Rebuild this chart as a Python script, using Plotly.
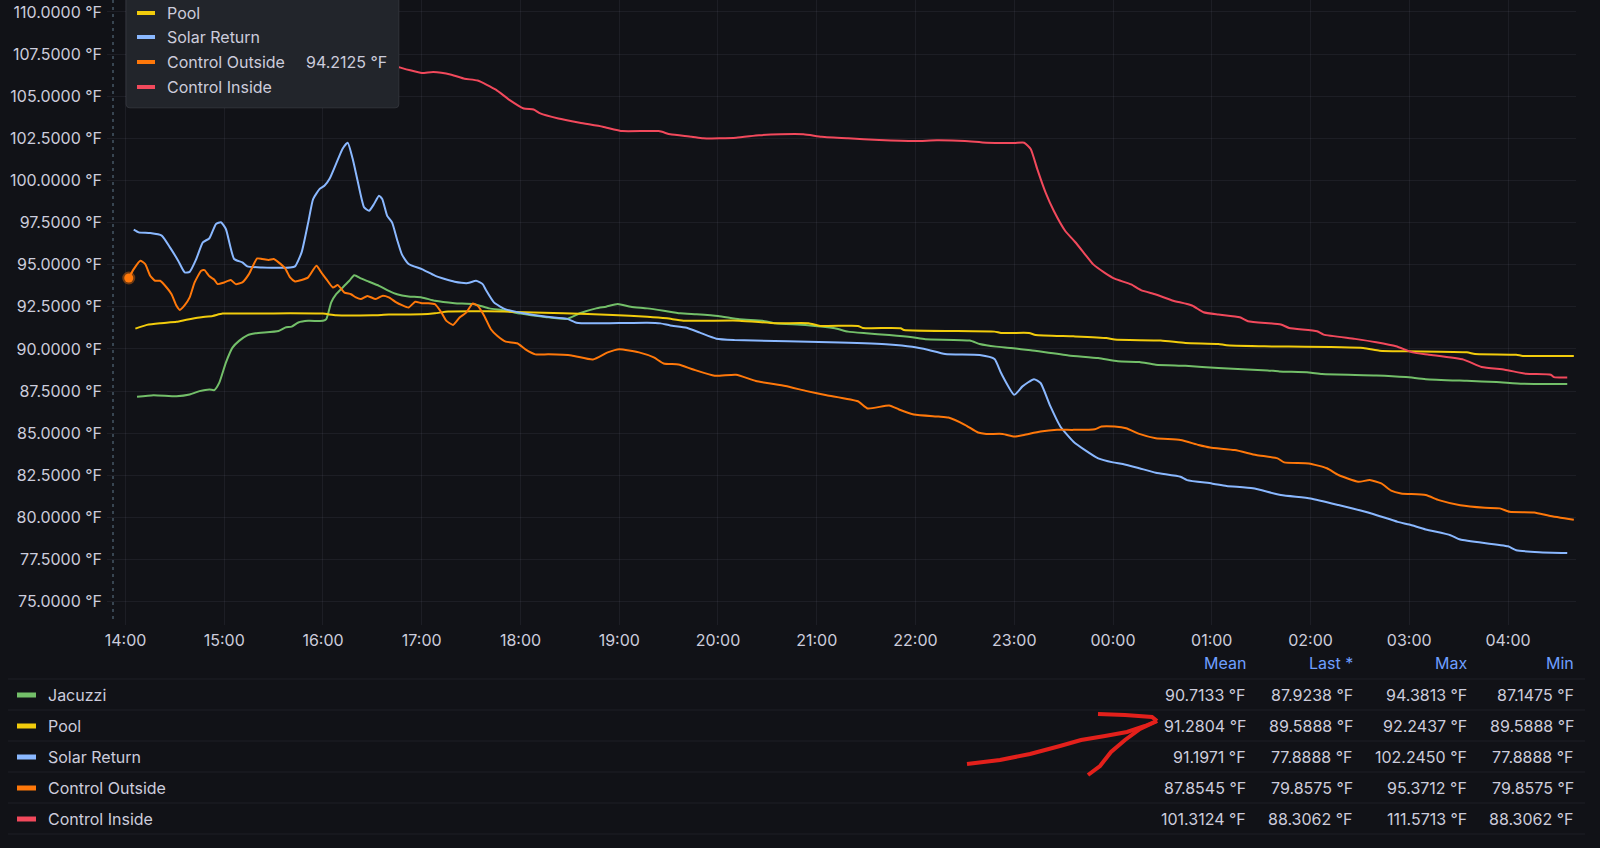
import plotly.graph_objects as go

# ---------------- data ----------------
jacuzzi_t = ["14:07","14:17","14:31","14:39","14:45","14:51","14:54","14:57","15:01","15:05","15:09","15:14","15:19","15:33","15:37","15:41","15:45","15:51","16:00","16:02","16:05","16:08","16:13","16:16","16:19","16:23","16:28","16:34","16:40","16:45","16:52","17:00","17:08","17:20","17:32","17:41","17:50","18:00","18:15","18:28","18:36","18:46","18:52","18:59","19:07","19:17","19:27","19:37","19:47","20:00","20:13","20:27","20:35","20:53","21:11","21:19","21:30","21:44","21:58","22:06","22:33","22:39","22:49","22:58","23:10","23:33","23:51","00:03","00:16","00:26","00:44","01:04","01:34","01:41","01:59","02:07","02:40","02:58","03:10","03:35","03:53","04:09","04:36"]
jacuzzi_v = [87.16,87.26,87.2,87.3,87.5,87.6,87.56,88.0,89.19,90.08,90.48,90.81,90.93,91.07,91.27,91.33,91.57,91.67,91.67,91.77,92.76,93.25,93.75,94.05,94.38,94.19,93.99,93.75,93.45,93.25,93.12,93.06,92.86,92.72,92.66,92.41,92.3,92.1,91.9,91.78,92.12,92.41,92.51,92.67,92.51,92.41,92.27,92.12,92.06,91.96,91.76,91.68,91.53,91.43,91.23,91.03,90.93,90.83,90.7,90.58,90.5,90.3,90.14,90.06,89.92,89.62,89.46,89.27,89.23,89.07,89.0,88.87,88.73,88.67,88.61,88.51,88.43,88.33,88.21,88.11,88.04,87.94,87.92]

pool_t = ["14:06","14:13","14:21","14:31","14:37","14:45","14:53","14:59","15:20","15:40","16:00","16:08","16:30","16:40","17:00","17:08","17:16","17:30","17:50","18:26","18:56","19:17","19:29","19:39","20:13","20:35","20:55","21:02","21:25","21:28","21:51","21:53","22:48","22:52","23:09","23:13","23:36","23:56","00:01","00:29","00:44","01:04","01:09","01:32","02:32","02:42","02:58","03:35","03:40","04:05","04:09","04:40"]
pool_v = [91.21,91.43,91.53,91.61,91.73,91.87,91.96,92.1,92.1,92.12,92.1,92.0,92.0,92.04,92.06,92.12,92.22,92.24,92.22,92.12,92.02,91.92,91.82,91.68,91.68,91.53,91.53,91.37,91.37,91.25,91.23,91.13,91.03,90.95,90.95,90.83,90.75,90.65,90.56,90.5,90.36,90.3,90.22,90.16,90.06,89.9,89.86,89.8,89.7,89.66,89.59,89.59]

solar_t = ["14:05","14:08","14:15","14:22","14:27","14:32","14:36","14:39","14:43","14:47","14:51","14:55","14:58","15:01","15:06","15:11","15:14","15:23","15:40","15:43","15:47","15:51","15:54","15:58","16:01","16:04","16:08","16:12","16:15","16:18","16:21","16:25","16:28","16:31","16:34","16:36","16:39","16:42","16:45","16:48","16:52","17:00","17:08","17:14","17:20","17:28","17:33","17:37","17:39","17:44","17:51","18:00","18:16","18:28","18:34","18:44","19:17","19:25","19:31","19:41","19:49","19:59","20:10","21:14","21:44","21:58","22:08","22:18","22:39","22:48","22:52","23:00","23:05","23:12","23:16","23:22","23:28","23:36","23:43","23:51","00:00","00:06","00:16","00:26","00:41","00:45","01:00","01:09","01:25","01:42","02:00","02:17","02:37","02:53","03:00","03:10","03:25","03:31","04:00","04:05","04:19","04:36"]
solar_v = [97.08,96.92,96.88,96.73,96.03,95.24,94.54,94.58,95.34,96.33,96.57,97.42,97.52,97.12,95.34,95.14,94.9,94.84,94.84,94.9,95.73,97.5,98.9,99.5,99.7,100.1,101.0,101.9,102.24,101.3,100.0,98.4,98.2,98.6,99.1,98.9,97.9,97.5,96.5,95.6,95.04,94.74,94.35,94.15,93.99,93.91,94.05,93.85,93.5,92.75,92.35,92.15,91.91,91.8,91.56,91.52,91.56,91.52,91.4,91.26,90.97,90.61,90.53,90.39,90.27,90.13,89.94,89.7,89.64,89.4,88.57,87.28,87.78,88.21,87.98,86.59,85.4,84.5,84.0,83.51,83.27,83.17,82.92,82.66,82.42,82.22,82.02,81.87,81.73,81.33,81.13,80.74,80.24,79.74,79.58,79.29,78.95,78.69,78.29,78.06,77.94,77.89]

outside_t = ["14:02","14:05","14:09","14:12","14:15","14:18","14:21","14:25","14:28","14:31","14:33","14:36","14:39","14:42","14:46","14:48","14:51","14:54","14:56","15:00","15:04","15:07","15:11","15:15","15:20","15:23","15:27","15:30","15:33","15:37","15:40","15:43","15:47","15:51","15:56","15:59","16:02","16:06","16:09","16:13","16:17","16:20","16:23","16:27","16:32","16:36","16:40","16:44","16:48","16:52","16:56","17:00","17:04","17:08","17:12","17:15","17:19","17:23","17:27","17:31","17:34","17:38","17:42","17:46","17:51","17:58","18:03","18:09","18:17","18:31","18:44","18:53","19:00","19:12","19:21","19:27","19:36","19:45","19:58","20:11","20:23","20:41","20:54","21:06","21:25","21:31","21:44","21:50","21:59","22:14","22:20","22:30","22:38","22:43","22:53","23:00","23:06","23:16","23:26","23:36","23:49","23:53","00:01","00:08","00:16","00:26","00:41","00:52","00:59","01:14","01:27","01:40","01:44","01:59","02:10","02:17","02:29","02:36","02:43","02:49","02:55","03:10","03:18","03:31","03:46","03:55","04:01","04:16","04:25","04:40"]
outside_v = [94.21,94.74,95.24,95.04,94.35,94.05,94.05,93.65,93.25,92.56,92.32,92.6,93.06,93.95,94.64,94.68,94.31,94.11,93.85,93.95,94.09,93.85,93.95,94.44,95.37,95.34,95.28,95.34,95.14,94.78,94.25,94.01,94.09,94.25,94.94,94.54,94.15,93.65,93.79,93.35,93.25,93.06,92.96,93.15,92.96,93.15,93.06,92.8,92.6,92.46,92.8,92.72,92.72,92.66,92.16,91.67,91.43,91.87,92.16,92.7,92.56,91.96,91.17,90.77,90.44,90.34,89.98,89.68,89.68,89.62,89.38,89.8,89.99,89.8,89.5,89.14,89.08,88.78,88.41,88.47,88.1,87.8,87.5,87.26,86.9,86.47,86.65,86.41,86.11,85.99,85.93,85.5,85.04,84.96,84.96,84.8,84.9,85.1,85.2,85.2,85.24,85.4,85.4,85.3,84.96,84.7,84.6,84.3,84.15,84.0,83.71,83.51,83.27,83.21,82.92,82.52,82.12,82.22,82.02,81.59,81.43,81.33,81.03,80.73,80.58,80.54,80.34,80.3,80.1,79.86]

inside_t = ["14:02","14:10","14:30","15:00","15:30","16:00","16:30","16:46","16:53","17:00","17:07","17:18","17:26","17:34","17:45","17:53","18:02","18:08","18:12","18:23","18:36","18:50","19:02","19:24","19:31","19:44","19:51","20:11","20:25","20:38","20:52","21:03","21:19","21:38","22:00","22:13","22:30","22:43","23:00","23:06","23:10","23:14","23:19","23:24","23:31","23:37","23:43","23:48","23:55","00:01","00:11","00:17","00:26","00:36","00:48","00:55","01:04","01:17","01:22","01:42","01:47","02:04","02:08","02:27","02:40","02:52","03:02","03:12","03:33","03:44","03:58","04:11","04:26","04:28","04:36"]
inside_v = [111.4,111.57,111.2,110.5,109.6,108.6,107.4,106.73,106.54,106.38,106.44,106.28,106.04,105.93,105.39,104.8,104.27,104.21,103.98,103.68,103.43,103.19,102.93,102.93,102.74,102.6,102.5,102.54,102.68,102.74,102.74,102.6,102.5,102.4,102.34,102.38,102.34,102.24,102.22,102.24,101.87,100.67,99.29,98.2,97.0,96.35,95.62,95.02,94.52,94.17,93.83,93.49,93.23,92.88,92.58,92.18,92.04,91.88,91.65,91.45,91.25,91.05,90.85,90.6,90.4,90.16,89.8,89.66,89.37,88.93,88.77,88.53,88.47,88.33,88.31]

series_names = ["Jacuzzi", "Pool", "Solar Return", "Control Outside", "Control Inside"]
series_colors = ["#73BF69", "#F2CC0C", "#8AB8FF", "#FF780A", "#F2495C"]
stat_headers = ["Mean", "Last *", "Max", "Min"]
stat_values = [
    ["90.7133 °F", "87.9238 °F", "94.3813 °F", "87.1475 °F"],
    ["91.2804 °F", "89.5888 °F", "92.2437 °F", "89.5888 °F"],
    ["91.1971 °F", "77.8888 °F", "102.2450 °F", "77.8888 °F"],
    ["87.8545 °F", "79.8575 °F", "95.3712 °F", "79.8575 °F"],
    ["101.3124 °F", "88.3062 °F", "111.5713 °F", "88.3062 °F"],
]
tooltip_names = ["Pool", "Solar Return", "Control Outside", "Control Inside"]
tooltip_colors = ["#F2CC0C", "#8AB8FF", "#FF780A", "#F2495C"]
hover_time = "14:02"
hover_value = 94.2125
hover_label = "94.2125 °F"

# ---------------- helpers ----------------
W, H = 1600, 848
ML, MR = 107, 24
PLOT_BOTTOM = 625
BG = "#111217"
TXT = "#ccccdc"
FONT = "Inter"
FS = 16


def ts(hm):
    h = int(hm.split(":")[0])
    day = "2024-07-20" if h >= 12 else "2024-07-21"
    return f"{day} {hm}:00"


def px(x):
    return (x - ML) / (W - ML - MR)


def py(y):
    return 1 - y / H


fig = go.Figure()
all_t = [jacuzzi_t, pool_t, solar_t, outside_t, inside_t]
all_v = [jacuzzi_v, pool_v, solar_v, outside_v, inside_v]
for name, col, t, v in zip(series_names, series_colors, all_t, all_v):
    fig.add_trace(go.Scatter(x=[ts(s) for s in t], y=v, mode="lines", name=name,
                             line=dict(color=col, width=2, shape="spline", smoothing=0.5),
                             showlegend=False, hoverinfo="skip"))

# hovered point
fig.add_trace(go.Scatter(x=[ts(hover_time)], y=[hover_value], mode="markers",
                         marker=dict(size=9, color="#FF780A",
                                     line=dict(width=4, color="rgba(255,120,10,0.4)")),
                         showlegend=False, hoverinfo="skip"))

shapes = []
annotations = []

# crosshair dashed line
shapes.append(dict(type="line", xref="paper", yref="paper", x0=px(113), x1=px(113),
                   y0=py(0), y1=py(620), line=dict(color="rgba(110,140,160,0.85)", width=1, dash="3px,4px")))

# tooltip box
tx0, tx1, ty0, ty1, r = 126, 399, -10, 108, 4
rx = r / (W - ML - MR)
ry = r / H
path = (f"M {px(tx0)},{py(ty0)} L {px(tx0)},{py(ty1)+ry} Q {px(tx0)},{py(ty1)} {px(tx0)+rx},{py(ty1)} "
        f"L {px(tx1)-rx},{py(ty1)} Q {px(tx1)},{py(ty1)} {px(tx1)},{py(ty1)+ry} L {px(tx1)},{py(ty0)} Z")
shapes.append(dict(type="path", xref="paper", yref="paper", path=path, layer="above",
                   fillcolor="#22252b", line=dict(color="rgba(204,204,220,0.10)", width=1)))
tip_rows = [13, 37, 62, 87]
for name, col, yy in zip(tooltip_names, tooltip_colors, tip_rows):
    shapes.append(dict(type="rect", xref="paper", yref="paper", layer="above",
                       x0=px(137), x1=px(155), y0=py(yy - 2), y1=py(yy + 2),
                       fillcolor=col, line=dict(width=0)))
    annotations.append(dict(xref="paper", yref="paper", x=px(165), y=py(yy), text=name,
                            showarrow=False, xanchor="left", yanchor="middle",
                            font=dict(family=FONT, size=FS, color=TXT)))
annotations.append(dict(xref="paper", yref="paper", x=px(389), y=py(62), text=hover_label,
                        showarrow=False, xanchor="right", yanchor="middle",
                        font=dict(family=FONT, size=FS, color=TXT)))

# legend table
col_right = [1248, 1355, 1469, 1576]
header_y = 663
row_y = [695, 726, 757, 788, 819]
sep_y = [679, 710, 741, 772, 803, 834]
for hdr, xr in zip(stat_headers, col_right):
    annotations.append(dict(xref="paper", yref="paper", x=px(xr), y=py(header_y), text=hdr,
                            showarrow=False, xanchor="right", yanchor="middle",
                            font=dict(family=FONT, size=FS, color="#6E9FFF")))
for sy in sep_y:
    shapes.append(dict(type="line", xref="paper", yref="paper", x0=px(8), x1=px(1585),
                       y0=py(sy), y1=py(sy), line=dict(color="rgba(204,204,220,0.07)", width=1)))
for name, col, yy, vals in zip(series_names, series_colors, row_y, stat_values):
    shapes.append(dict(type="rect", xref="paper", yref="paper", x0=px(17), x1=px(36),
                       y0=py(yy - 2.5), y1=py(yy + 2.5), fillcolor=col, line=dict(width=0)))
    annotations.append(dict(xref="paper", yref="paper", x=px(46), y=py(yy), text=name,
                            showarrow=False, xanchor="left", yanchor="middle",
                            font=dict(family=FONT, size=FS, color=TXT)))
    for val, xr in zip(vals, col_right):
        annotations.append(dict(xref="paper", yref="paper", x=px(xr), y=py(yy), text=val,
                                showarrow=False, xanchor="right", yanchor="middle",
                                font=dict(family=FONT, size=FS, color=TXT)))

# hand-drawn red arrow
def poly(pts):
    return "M " + " L ".join(f"{px(a)},{py(b)}" for a, b in pts)

arrow_red = "#E3201B"
for pts in [
    [(967, 764), (1000, 760), (1030, 754), (1060, 746), (1081, 740), (1105, 736), (1127, 732), (1145, 726), (1157, 721)],
    [(1098, 714), (1125, 715), (1152, 717), (1157, 721)],
    [(1157, 721), (1140, 729), (1125, 740), (1111, 752), (1100, 766), (1088, 775)],
]:
    shapes.append(dict(type="path", xref="paper", yref="paper", path=poly(pts),
                       line=dict(color=arrow_red, width=4)))

fig.update_layout(
    width=W, height=H,
    margin=dict(l=ML, r=MR, t=0, b=0, pad=0),
    paper_bgcolor=BG, plot_bgcolor=BG,
    font=dict(family=FONT, size=FS, color=TXT),
    shapes=shapes, annotations=annotations,
    showlegend=False,
    xaxis=dict(type="date", range=["2024-07-20 13:48:46", "2024-07-21 04:41:19"],
               dtick=3600000, tickformat="%H:%M", showgrid=True,
               gridcolor="rgba(204,204,220,0.07)", zeroline=False, showline=False,
               ticks="", ticklabelstandoff=4, tickfont=dict(family=FONT, size=FS, color=TXT)),
    yaxis=dict(domain=[1 - PLOT_BOTTOM / H, 1], range=[73.62, 110.71], tick0=75, dtick=2.5,
               tickformat=".4f", ticksuffix=" °F", showgrid=True,
               gridcolor="rgba(204,204,220,0.07)", zeroline=False, showline=False,
               ticks="", ticklabelstandoff=4, tickfont=dict(family=FONT, size=FS, color=TXT)),
)

fig.write_html("out.html")
